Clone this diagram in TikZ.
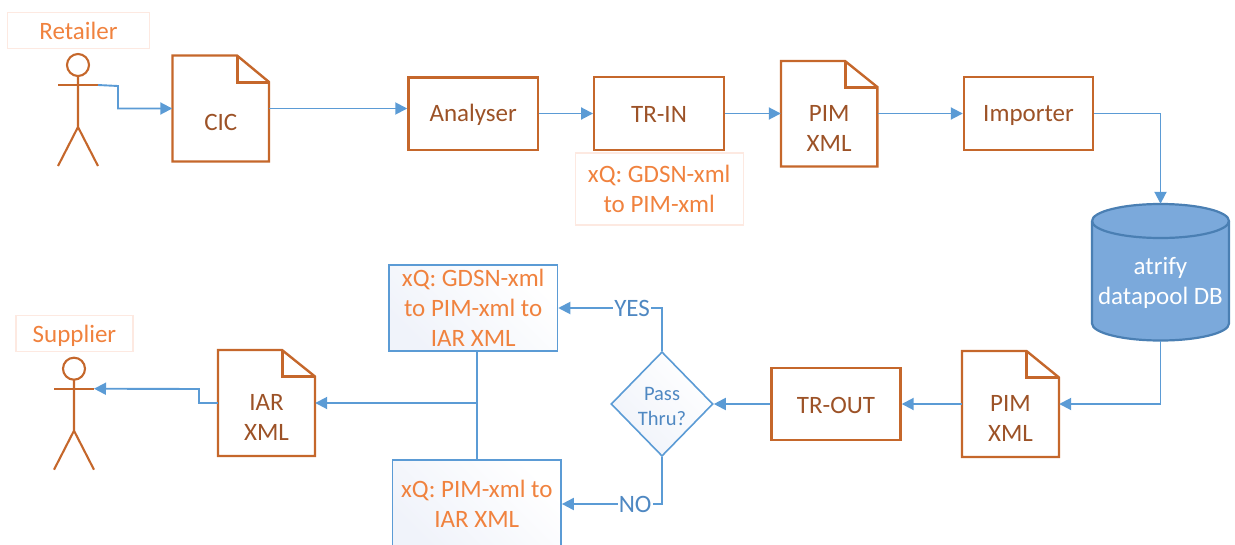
\documentclass[tikz,border=0pt]{standalone}
\usepackage{fontspec}
\setmainfont{Carlito}
\usetikzlibrary{arrows.meta,shapes.geometric,calc}
\definecolor{ob}{HTML}{C5672B}
\definecolor{obt}{HTML}{9C5227}
\definecolor{lbl}{HTML}{F0823E}
\definecolor{lbb}{HTML}{FDE9E1}
\definecolor{bl}{HTML}{5B9BD5}
\definecolor{blt}{HTML}{4F88C2}
\definecolor{dbf}{HTML}{7BA9DB}
\definecolor{dbd}{HTML}{4A7FB3}
\definecolor{shd}{HTML}{F0F3FA}
\newcommand{\fnt}{\fontsize{25}{30}\selectfont}
\newcommand{\dn}[1]{\rule{0pt}{#1pt}}
\tikzset{
  x=1pt,y=-1pt,
  procbox/.style={draw=ob,line width=2.4pt,inner sep=0pt,align=center,text=obt,font=\fnt,anchor=center},
  docbox/.style={inner sep=0pt,align=center,text=obt,font=\fnt},
  docline/.style={draw=ob,line width=2.4pt,line join=miter},
  lblbox/.style={draw=lbb,line width=1.2pt,inner sep=0pt,align=center,text=lbl,font=\fnt},
  xqbox/.style={draw=bl,line width=1.6pt,inner sep=0pt,align=center,text=lbl,font=\fnt,top color=shd,bottom color=white,shading angle=135},
  conn/.style={draw=bl,line width=1.9pt},
  arr/.style={conn,-{Triangle[length=12pt,width=12pt]}},
  actor/.style={draw=ob,line width=2.1pt},
  edgelab/.style={fill=white,inner sep=1pt,text=blt,font=\fontsize{25}{30}\selectfont},
}
% name, x1, y1, x2, y2, foldx, foldy, text
\newcommand{\docnode}[8]{%
  \node[docbox,minimum width=#4pt-#2pt,minimum height=#5pt-#3pt] (#1) at ({(#2+#4)/2},{(#3+#5)/2}) {\dn{45}#8};
  \draw[docline] (#2,#3) -- (#6,#3) -- (#4,#7) -- (#4,#5) -- (#2,#5) -- cycle;
  \draw[docline,line width=3pt] (#6,#3) -- (#6,#7) -- (#4,#7);
}
% name, head x, head y
\newcommand{\actorfig}[3]{%
  \draw[actor] (#2,#3) circle (11);
  \draw[actor] (#2-20,#3+20) -- (#2+20,#3+20);
  \draw[actor] (#2,#3+11) -- (#2,#3+62) (#2-20,#3+101) -- (#2,#3+62) -- (#2+20,#3+101);
  \coordinate (#1) at (#2+20,#3+20);
}
\begin{document}
\begin{tikzpicture}
\useasboundingbox (0,0) rectangle (1235,544);
\clip (0,0) rectangle (1235,544);

\node[lblbox,minimum width=142pt,minimum height=35.5pt] (retlabel) at (78.5,30.5) {Retailer};
\actorfig{rethand}{78}{65}
\docnode{cic}{172.5}{55.5}{269}{161.5}{237}{82}{CIC}
\node[procbox,minimum width=129.5pt,minimum height=72.5pt] (analyser) at (473.2,113.7) {\dn{20}Analyser};
\node[procbox,minimum width=129.5pt,minimum height=72.5pt] (trin) at (659,113.5) {\dn{18}TR-IN};
\node[lblbox,minimum width=168pt,minimum height=72pt] (xq1) at (659.2,189) {xQ: GDSN-xml\\to PIM-xml};
\docnode{pim1}{781}{61}{877.3}{166.5}{845}{87}{PIM\\XML}
\node[procbox,minimum width=129pt,minimum height=72.5pt] (importer) at (1028.5,113.5) {\dn{20}Importer};

\fill[dbf] (1092,221) arc[start angle=180,end angle=360,x radius=68.5,y radius=17] -- (1229,323.5) arc[start angle=0,end angle=180,x radius=68.5,y radius=17] -- cycle;
\draw[dbd,line width=2.2pt] (1092,221) arc[start angle=180,end angle=-180,x radius=68.5,y radius=17];
\draw[dbd,line width=2.2pt] (1092,221) -- (1092,323.5) arc[start angle=180,end angle=0,x radius=68.5,y radius=17] -- (1229,221);
\node[inner sep=0pt,minimum width=137pt,minimum height=137pt,align=center,text=white,font=\fnt] (db) at (1160.5,272.5) {\dn{39}atrify\\datapool DB};

\docnode{pim2}{962}{351}{1059}{457}{1026.5}{377.5}{PIM\\XML}
\node[procbox,minimum width=129pt,minimum height=72.5pt] (trout) at (836,404) {\dn{19}TR-OUT};
\node[diamond,draw=bl,line width=1.6pt,inner sep=0pt,minimum width=102pt,minimum height=104.5pt,aspect=1,align=center,text=blt,top color=shd,bottom color=white,shading angle=135,font=\fontsize{20.5}{25}\selectfont] (pass) at (662,404) {\dn{18}Pass\\Thru?};
\node[xqbox,minimum width=168.5pt,minimum height=86.5pt] (xq2) at (473.2,308) {\dn{17}xQ: GDSN-xml\\to PIM-xml to\\IAR XML};
\node[xqbox,minimum width=168.5pt,minimum height=88pt] (xq3) at (476.8,504) {xQ: PIM-xml to\\IAR XML};
\docnode{iar}{218}{350}{315}{456}{282}{376.5}{IAR\\XML}
\node[lblbox,minimum width=117pt,minimum height=36pt] (suplabel) at (74.5,333.5) {\dn{23}Supplier};
\actorfig{suphand}{74}{368.7}

% top row connectors
\coordinate (r1) at (118,86);
\draw[arr] (rethand) -- (r1) |- (cic.west);
\draw[arr] (cic.east) -- (analyser.west |- cic.east);
\draw[arr] (analyser.east |- trin.west) -- (trin.west);
\draw[arr] (trin.east) -- (pim1.west |- trin.east);
\draw[arr] (pim1.east |- importer.west) -- (importer.west);
\draw[arr] (importer.east) -| (db.north);
% return row connectors
\draw[arr] (db.south) |- (pim2.east);
\draw[arr] (pim2.west) -- (trout.east);
\draw[arr] (trout.west) -- (pass.east);
\coordinate (jn) at (476.8,403);
\draw[conn] (xq2.south -| jn) -- (xq3.north -| jn);
\draw[arr] (jn) -- (iar.east |- jn);
\coordinate (r2) at (199,403);
\coordinate (r3) at (199,389);
\draw[arr] (iar.west |- r2) -- (r2) -- (r3) -- (suphand);
\draw[arr] (pass.north) |- (xq2.east) node[edgelab,pos=0.644] (yes) {YES};
\draw[arr] (pass.south) |- (xq3.east) node[edgelab,pos=0.634] (no) {NO};
\end{tikzpicture}
\end{document}
